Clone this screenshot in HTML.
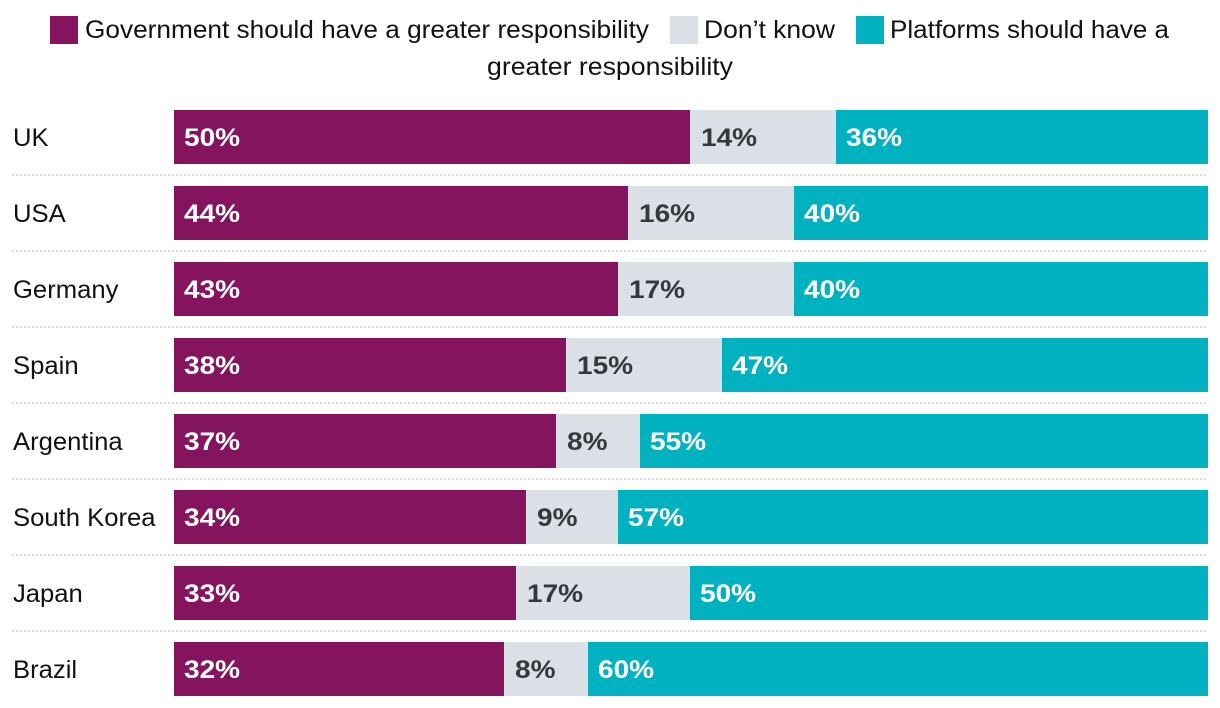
<!DOCTYPE html>
<html lang="en">
<head>
<meta charset="utf-8">
<title>Responsibility for content: government or platforms</title>
<style>
html,body{margin:0;padding:0;background:#fff;width:1220px;height:708px;overflow:hidden}
svg{display:block}
text{font-family:"Liberation Sans",sans-serif;font-size:25px}
.legend-text{fill:#111}
.cat{fill:#111}
.val{font-weight:700}
</style>
</head>
<body>
<svg id="chart" width="1220" height="708" viewBox="0 0 1220 708" xmlns="http://www.w3.org/2000/svg">
  <g>
    <rect x="50" y="16" width="28" height="28" fill="#84145e"/>
    <text class="legend-text" x="85" y="38" textLength="564" lengthAdjust="spacingAndGlyphs">Government should have a greater responsibility</text>
    <rect x="670" y="16" width="28" height="28" fill="#dbdfe6"/>
    <text class="legend-text" x="704" y="38" textLength="131" lengthAdjust="spacingAndGlyphs">Don’t know</text>
    <rect x="856" y="16" width="28" height="28" fill="#00b2bf"/>
    <text class="legend-text" x="890" y="38" textLength="279" lengthAdjust="spacingAndGlyphs">Platforms should have a</text>
    <text class="legend-text" x="487" y="75" textLength="246" lengthAdjust="spacingAndGlyphs">greater responsibility</text>
  </g>
  <g id="rows"></g>
</svg>
<script>
const countries = ["UK","USA","Germany","Spain","Argentina","South Korea","Japan","Brazil"];
const governmentValues = [49.9,43.9,42.9,37.9,36.9,34,33.1,31.9];
const dontKnowValues = [14.1,16.1,17.1,15.1,8.2,8.9,16.8,8.1];
const platformValues = [36,40,40,47,54.9,57.1,50.1,60];

const NS = "http://www.w3.org/2000/svg";
const rowsGroup = document.getElementById("rows");
const plotLeft = 174, plotWidth = 1034, firstBarTop = 110, rowPitch = 76, barHeight = 54;
const xScale = v => Math.round(plotLeft + v / 100 * plotWidth);
const yScale = i => firstBarTop + i * rowPitch;

function slug(s){ return s.toLowerCase().replace(/\s+/g, "-"); }

function stretch(t, factor){
  const len = t.getComputedTextLength();
  t.setAttribute("textLength", (len * factor).toFixed(1));
  t.setAttribute("lengthAdjust", "spacingAndGlyphs");
}

function addSegment(parent, i, start, value, color, textColor, key, pad){
  const r = document.createElementNS(NS, "rect");
  
  
  r.setAttribute("x", xScale(start));
  r.setAttribute("y", yScale(i));
  r.setAttribute("width", xScale(start + value) - xScale(start));
  r.setAttribute("height", barHeight);
  r.setAttribute("fill", color);
  parent.appendChild(r);
  const t = document.createElementNS(NS, "text");
  
  
  t.setAttribute("class", "val");
  t.setAttribute("x", xScale(start) + pad);
  t.setAttribute("y", yScale(i) + 36);
  t.setAttribute("fill", textColor);
  t.textContent = Math.round(value) + "%";
  parent.appendChild(t);
  stretch(t, 1.12);
}

countries.forEach((name, i) => {
  const g = document.createElementNS(NS, "g");
  
  
  rowsGroup.appendChild(g);

  const label = document.createElementNS(NS, "text");
  
  
  label.setAttribute("class", "cat");
  label.setAttribute("x", 13);
  label.setAttribute("y", yScale(i) + 36);
  label.textContent = name;
  g.appendChild(label);
  stretch(label, 1.025);

  addSegment(g, i, 0, governmentValues[i], "#84145e", "#ffffff", slug(name) + "-government", 10);
  addSegment(g, i, governmentValues[i], dontKnowValues[i], "#dbdfe6", "#36383c", slug(name) + "-dont-know", 11);
  addSegment(g, i, governmentValues[i] + dontKnowValues[i], platformValues[i], "#00b2bf", "#ffffff", slug(name) + "-platforms", 10);

  if (i < countries.length - 1) {
    const line = document.createElementNS(NS, "line");
    
    
    line.setAttribute("x1", 12);
    line.setAttribute("x2", plotLeft + plotWidth);
    line.setAttribute("y1", yScale(i) + barHeight + 11);
    line.setAttribute("y2", yScale(i) + barHeight + 11);
    line.setAttribute("stroke", "#dcdcdc");
    line.setAttribute("stroke-width", 2);
    line.setAttribute("stroke-dasharray", "2 2");
    g.appendChild(line);
  }
});
</script>
</body>
</html>
